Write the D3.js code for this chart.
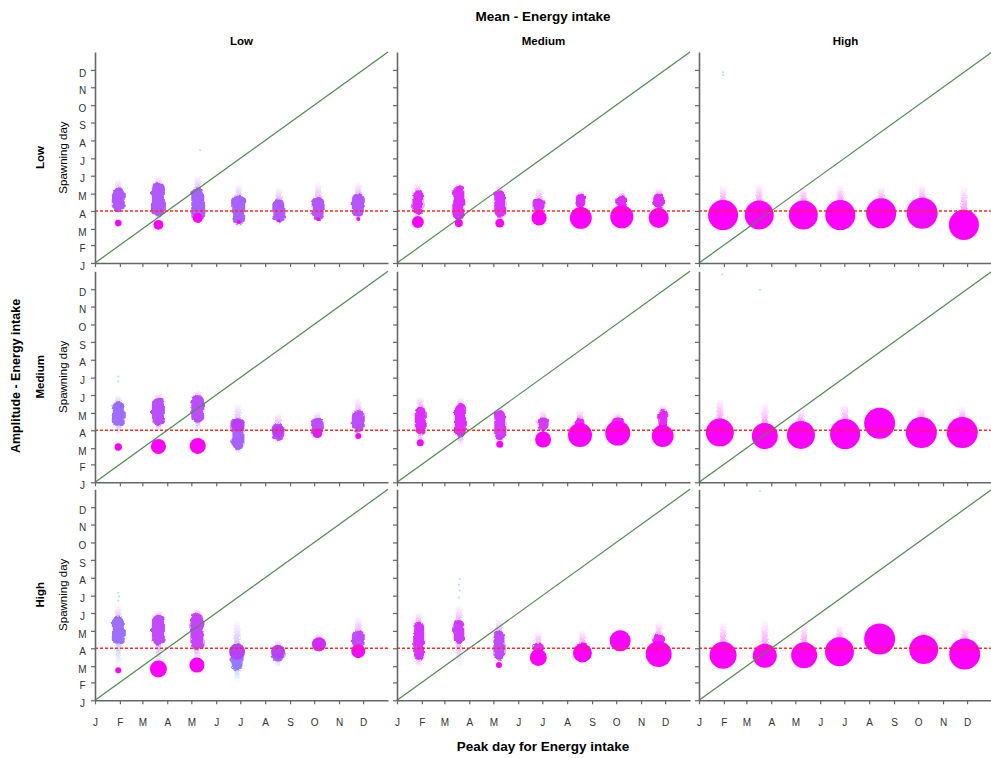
<!DOCTYPE html>
<html><head><meta charset="utf-8">
<script src="https://cdn.jsdelivr.net/npm/d3@7"></script>
<style>body{margin:0;background:#fff} svg{display:block;font-family:"Liberation Sans",Arial,sans-serif}</style>
</head><body><svg id="c" width="991" height="758"></svg>
<script>
const levels = ["Low", "Medium", "High"];
const monthLabels = ["J","F","M","A","M","J","J","A","S","O","N","D"];
const monthStarts = [0,31,59,90,120,151,181,212,243,273,304,334];
const refDay = 90;
// cluster: [peakDay, tailTop, bodyHi, bodyLo, tailLow, bodyColour, circleDay, circleShare, circleColour]
const p11 = [[29,145,131,88,85,.35,69,4,1],[79,150,140,80,75,.35,66,9,1],[128,152,131,71,70,.3,78,9,1],[179,138,118,66,62,.3,71,1.5,1],[229,131,112,71,66,.35,73,0.8,1],[278,140,114,74,72,.38,76,1.5,1],[328,140,121,80,76,.38,76,1.5,1]];
const p12 = [[26,138,126,83,78,.75,71,13,1],[77,138,135,74,70,.75,69,6,1],[128,135,126,80,76,.72,69,7.4,1],[177,130,112,87,85,.7,78,21,1],[229,126,118,95,95,.75,78,44,1],[280,126,118,95,95,.75,80,49,1],[326,130,121,95,95,.75,78,37,1]];
const p13 = [[30,135,null,null,null,1,83,83,1],[75,138,null,null,null,1,83,77,1],[130,132,null,null,null,1,83,77,1],[176,135,null,null,null,1,83,83,1],[227,132,null,null,null,1,86,83,1],[278,135,null,null,null,.9,86,88,.92],[330,135,null,null,null,1,66,83,1]];
const p21 = [[29,151,139,96,80,.25,61,5,1],[79,155,146,99,85,.45,62,21,1],[128,160,151,103,88,.45,63,23.5,1],[178,137,111,56,50,.3,99,15.5,.5],[228,120,103,73,68,.45,88,13,.5],[277,122,111,80,78,.45,85,9,.75],[328,146,125,87,85,.45,80,3.3,1]];
const p22 = [[29,148,131,82,70,.75,68.5,4.5,1],[79,146,137,78,64,.75,0,0,1],[128,131,125,73,68,.65,66,4.5,1],[182,125,112,88,85,.65,74,23.5,1],[228,125,112,95,95,.85,82,53,1],[275,122,112,95,95,.85,85,57,1],[331,134,125,95,95,.8,80,44,1]];
const p23 = [[26,146,null,null,null,1,86,72,1],[82,139,null,null,null,1,80,62,1],[127,128,null,null,null,1,82,72,1],[182,137,null,null,null,1,83.5,83,1],[225,128,null,null,null,1,102,88,1],[277,131,null,null,null,1,86,88,1],[328,131,null,null,null,1,86,88,1]];
const p31 = [[29,165,145,96,55,.25,52,3.3,1],[79,156,148,96,62,.5,54,26.5,1],[127,160,151,87,65,.55,61,21,1],[177,139,99,52,32,.2,84,23.5,.45],[228,105,95,67,58,.3,84,18,.45],[279,119,105,86,84,.6,97,18,.65],[328,145,122,90,88,.5,85,18,.9]];
const p32 = [[27,153,136,70,58,.7,0,0,1],[77,165,139,99,58,.6,0,0,1],[127,142,119,70,66,.5,61,3.3,1],[176,119,100,80,78,.7,74,26.5,1],[231,122,100,95,95,.9,82,33,1],[278,125,null,null,null,.95,103,40.5,.95],[326,136,115,95,95,.85,80,62,1]];
const p33 = [[30,136,null,null,null,1,78,67,1],[82,139,null,null,null,1,77,53,1],[131,133,null,null,null,1,78,62,1],[175,130,null,null,null,1,84,77,1],[225,null,null,null,null,1,106,88,1],[280,120,null,null,null,1,88,77,1],[331,127,null,null,null,1,80,88,1]];
const panels = [[p11,p12,p13],[p21,p22,p23],[p31,p32,p33]];
// faint outlier points: [row, col, peakDay, spawningDay]
const outliers = [[0,0,131,195],[0,2,30,330],[0,2,30,325],[1,0,29,175],[1,0,29,183],[1,2,29,360],[1,2,76,333],[2,0,29,172],[2,0,30,180],[2,0,29,186],[2,1,77,178],[2,1,78,190],[2,1,77,200],[2,1,78,210],[2,2,76,362]];

const svg = d3.select("#c");
const colour = d3.scaleLinear().domain([0, 0.32, 1]).range(["#5aa8ff", "#a550ff", "#ff00ff"]);
const size = d3.scaleSqrt().domain([0, 100]).range([0, 16.5]);
const colX = [95, 397, 699], rowBottom = [263, 482.3, 700.3], W = 293, H = 211;
const bodyW = [13, 11, 9];
const defs = svg.append("defs");
const f = defs.append("filter").attr("id", "rough").attr("x", "-30%").attr("y", "-10%").attr("width", "160%").attr("height", "120%");
f.append("feTurbulence").attr("type", "fractalNoise").attr("baseFrequency", 0.15).attr("numOctaves", 2).attr("seed", 3).attr("result", "n");
f.append("feDisplacementMap").attr("in", "SourceGraphic").attr("in2", "n").attr("scale", 5).attr("xChannelSelector", "R").attr("yChannelSelector", "G");
const fs = defs.append("filter").attr("id", "speck").attr("x", "-50%").attr("y", "-10%").attr("width", "200%").attr("height", "120%");
fs.append("feTurbulence").attr("type", "fractalNoise").attr("baseFrequency", 0.9).attr("numOctaves", 1).attr("seed", 7).attr("result", "n");
fs.append("feDisplacementMap").attr("in", "SourceGraphic").attr("in2", "n").attr("scale", 5).attr("xChannelSelector", "R").attr("yChannelSelector", "G");
let gid = 0;
function grad(c, topOp, botOp) {
  const id = "g" + (gid++);
  const g = defs.append("linearGradient").attr("id", id).attr("x1", 0).attr("x2", 0).attr("y1", 0).attr("y2", 1);
  g.append("stop").attr("offset", "0%").attr("stop-color", c).attr("stop-opacity", topOp);
  g.append("stop").attr("offset", "100%").attr("stop-color", c).attr("stop-opacity", botOp);
  return "url(#" + id + ")";
}

panels.forEach((row, r) => row.forEach((data, c) => {
  const g = svg.append("g").attr("transform", `translate(${colX[c]},${rowBottom[r] - H})`);
  const x = d3.scaleLinear().domain([0, 365]).range([0, W]);
  const y = d3.scaleLinear().domain([0, 365]).range([H, 0]);
  const bw = bodyW[c];
  data.forEach(d => {
    const [px, tTop, hi, lo, tLow, bc, cd, cs, cc] = d;
    const cx = x(px), col = colour(bc);
    const rad = cs > 0 ? size(cs) : 0;
    const upperEnd = hi != null ? y(hi) + 3 : (rad > 0 ? y(cd) - rad + 3 : null);
    if (tTop != null && upperEnd != null && y(tTop) < upperEnd) {
      g.append("rect").attr("x", cx - 3).attr("width", 6).attr("y", y(tTop)).attr("height", upperEnd - y(tTop))
        .attr("fill", grad(colour(Math.min(1, bc + 0.1)), 0.0, 0.4)).attr("filter", "url(#speck)");
    }
    if (lo != null && tLow != null && tLow < lo) {
      g.append("rect").attr("x", cx - 2.5).attr("width", 5).attr("y", y(lo) - 2).attr("height", y(tLow) - y(lo) + 2)
        .attr("fill", grad(colour(Math.max(0, bc - 0.15)), 0.45, 0.0)).attr("filter", "url(#speck)");
    }
    if (hi != null && lo != null) {
      g.append("rect").attr("x", cx - bw / 2).attr("width", bw).attr("y", y(hi)).attr("height", y(lo) - y(hi))
        .attr("rx", bw / 2).attr("fill", col).attr("opacity", 0.92).attr("filter", "url(#rough)");
    }
    if (rad > 0) {
      g.append("circle").attr("cx", cx).attr("cy", y(cd)).attr("r", rad).attr("fill", colour(cc));
    }
  });
  outliers.filter(o => o[0] === r && o[1] === c).forEach(o => {
    g.append("circle").attr("cx", x(o[2])).attr("cy", y(o[3])).attr("r", 1).attr("fill", "#40c8ff").attr("opacity", 0.5);
  });
  // reference lines
  g.append("line").attr("x1", x(0)).attr("y1", y(0)).attr("x2", x(365)).attr("y2", y(365))
    .attr("stroke", "#4f8a4f").attr("stroke-width", 1.2);
  g.append("line").attr("x1", 0).attr("x2", W).attr("y1", y(refDay)).attr("y2", y(refDay))
    .attr("stroke", "#ff2a2a").attr("stroke-width", 1.4).attr("stroke-dasharray", "3,2");
  // axes
  const ya = d3.axisLeft(y).tickValues(monthStarts).tickSize(4).tickSizeOuter(0).tickPadding(5)
    .tickFormat((v, i) => c === 0 ? monthLabels[i] : "");
  const yg = g.append("g").call(ya);
  const xa = d3.axisBottom(x).tickValues(monthStarts).tickSize(4).tickSizeOuter(0).tickPadding(15)
    .tickFormat((v, i) => r === 2 ? monthLabels[i] : "");
  const xg = g.append("g").attr("transform", `translate(0,${H})`).call(xa);
  [yg, xg].forEach(a => {
    a.select(".domain").attr("stroke", "#666").attr("stroke-width", 1.6);
    a.selectAll(".tick line").attr("stroke", "#666").attr("stroke-width", 1.2);
    a.selectAll("text").attr("fill", "#333").attr("font-size", 10).attr("font-family", "Liberation Sans, Arial, sans-serif");
  });
  yg.selectAll("text").attr("text-anchor", "middle").attr("x", -12.5).attr("transform", "translate(0,3)");
}));

// titles
svg.append("text").attr("x", 543).attr("y", 21).attr("text-anchor", "middle").attr("font-weight", "bold").attr("font-size", 13.5).text("Mean - Energy intake");
levels.forEach((l, c) => svg.append("text").attr("x", colX[c] + W / 2).attr("y", 45).attr("text-anchor", "middle").attr("font-weight", "bold").attr("font-size", 11.5).text(l));
levels.forEach((l, r) => {
  const cy = rowBottom[r] - H / 2;
  svg.append("text").attr("transform", `translate(44,${cy}) rotate(-90)`).attr("text-anchor", "middle").attr("font-weight", "bold").attr("font-size", 11.5).text(l);
  svg.append("text").attr("transform", `translate(67,${cy}) rotate(-90)`).attr("text-anchor", "middle").attr("font-size", 11.5).text("Spawning day");
});
svg.append("text").attr("transform", `translate(20,376) rotate(-90)`).attr("text-anchor", "middle").attr("font-weight", "bold").attr("font-size", 12.5).text("Amplitude - Energy intake");
svg.append("text").attr("x", 543).attr("y", 751).attr("text-anchor", "middle").attr("font-weight", "bold").attr("font-size", 13.5).text("Peak day for Energy intake");
</script></body></html>
